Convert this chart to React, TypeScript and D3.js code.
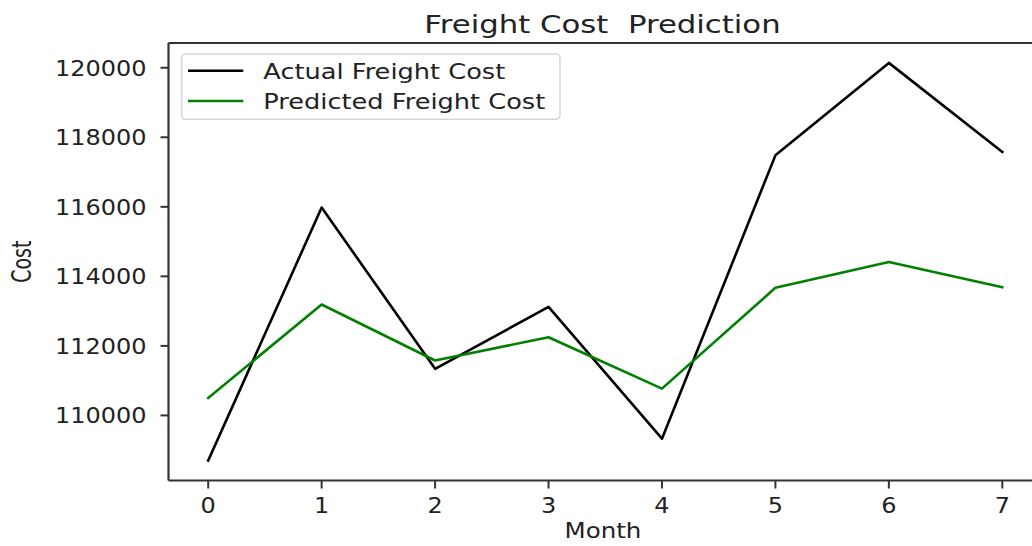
import * as d3 from "d3";

const months = [0, 1, 2, 3, 4, 5, 6, 7];
const actualCost = [108700, 115980, 111340, 113120, 109330, 117480, 120140, 117580];
const predictedCost = [110500, 113190, 111580, 112250, 110770, 113670, 114410, 113690];
const yTickValues = [110000, 112000, 114000, 116000, 118000, 120000];
const seriesNames = ["Actual Freight Cost", "Predicted Freight Cost"];
const seriesColors = ["#000000", "#008000"];

const W = 1032;
const H = 546;
const FONT = "DejaVu Sans, sans-serif";
const INK = "#222";

const App = () => {
  const left = 168.5;
  const right = 1042; // axes runs past the picture edge, as in the source
  const top = 43;
  const bottom = 480.5;

  // matplotlib-like autoscale: 5% margin on each side
  const xPad = (d3.max(months)! - d3.min(months)!) * 0.05;
  const x = d3
    .scaleLinear()
    .domain([d3.min(months)! - xPad, d3.max(months)! + xPad])
    .range([left, right]);

  const all = actualCost.concat(predictedCost);
  const lo = d3.min(all)!;
  const hi = d3.max(all)!;
  const yPad = (hi - lo) * 0.05;
  const y = d3.scaleLinear().domain([lo - yPad, hi + yPad]).range([bottom, top]);

  const line = d3
    .line<number>()
    .x((_, i) => x(months[i]))
    .y((d) => y(d));

  const series = [actualCost, predictedCost];

  return (
    <svg
      width={W}
      height={H}
      style={{ position: "fixed", left: 0, top: 0, background: "#fff" }}
      fontFamily={FONT}
    >
      <rect x={0} y={0} width={W} height={H} fill="#fff" />

      {/* lines */}
      {series.map((s, i) => (
        <path
          key={i}
          d={line(s) ?? ""}
          fill="none"
          stroke={seriesColors[i]}
          strokeWidth={2.6}
          strokeLinejoin="round"
          strokeLinecap="square"
        />
      ))}

      {/* spines */}
      <g stroke="#333" strokeWidth={2.2} fill="none">
        <line x1={left} x2={left} y1={top} y2={bottom} />
        <line x1={left} x2={right} y1={bottom} y2={bottom} />
        <line x1={left} x2={right} y1={top} y2={top} />
      </g>

      {/* y axis */}
      {yTickValues.map((v) => (
        <g key={v}>
          <line x1={left - 8} x2={left} y1={y(v)} y2={y(v)} stroke="#333" strokeWidth={2} />
          <text
            transform={`translate(${left - 22},${y(v) + 8}) scale(1.09,1)`}
            textAnchor="end"
            fontSize={22}
            fill={INK}
          >
            {v}
          </text>
        </g>
      ))}

      {/* x axis */}
      {months.map((m) => (
        <g key={m}>
          <line x1={x(m)} x2={x(m)} y1={bottom} y2={bottom + 8} stroke="#333" strokeWidth={2} />
          <text
            transform={`translate(${x(m)},513) scale(1.09,1)`}
            textAnchor="middle"
            fontSize={22}
            fill={INK}
          >
            {m}
          </text>
        </g>
      ))}

      {/* labels */}
      <text
        transform={`translate(603,538) scale(1.19,1)`}
        textAnchor="middle"
        fontSize={20.6}
        fill={INK}
      >
        Month
      </text>
      <text
        transform={`translate(31,${(top + bottom) / 2}) scale(1.37,1) rotate(-90)`}
        textAnchor="middle"
        fontSize={19}
        fill={INK}
      >
        Cost
      </text>
      <text
        transform={`translate(602.5,33) scale(1.23,1)`}
        textAnchor="middle"
        fontSize={25}
        fill={INK}
        style={{ whiteSpace: "pre" }}
      >
        {"Freight Cost  Prediction"}
      </text>

      {/* legend */}
      <g>
        <rect
          x={181.7}
          y={54}
          width={378.3}
          height={65.3}
          rx={4}
          fill="#fff"
          fillOpacity={0.8}
          stroke="#d6d6d6"
          strokeWidth={1.5}
        />
        {seriesNames.map((name, i) => (
          <g key={name} transform={`translate(0,${i * 30.3})`}>
            <line x1={188} x2={243.3} y1={70.7} y2={70.7} stroke={seriesColors[i]} strokeWidth={2.6} />
            <text
              transform={`translate(263.3,78.5) scale(1.245,1)`}
              fontSize={20.6}
              fill={INK}
            >
              {name}
            </text>
          </g>
        ))}
      </g>
    </svg>
  );
};

export default App;
